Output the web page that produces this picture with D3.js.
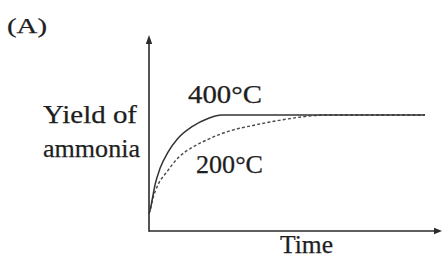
<!DOCTYPE html>
<html><head><meta charset="utf-8">
<script src="https://cdn.jsdelivr.net/npm/d3@7"></script>
<style>html,body{margin:0;padding:0;background:#fff;}svg{display:block;}
text{font-family:"Liberation Serif","Times New Roman",Times,serif;}</style>
</head><body>
<svg id="c" width="443" height="259"></svg>
<script>
// Data (time in arbitrary units, yield relative to equilibrium)
const time400  = [0, 0.04, 0.1, 0.22, 0.4, 0.69, 1.05, 1.56, 2.14, 2.64, 4, 6, 8, 10];
const yield400 = [0.15, 0.18, 0.25, 0.40, 0.54, 0.68, 0.80, 0.90, 0.97, 1.0, 1.0, 1.0, 1.0, 1.0];
const time200  = [0, 0.04, 0.14, 0.33, 0.65, 1.05, 1.56, 2.14, 2.64, 3.19, 3.77, 4.38, 5.0, 5.58, 6.0, 6.5, 8, 10];
const yield200 = [0.15, 0.18, 0.28, 0.40, 0.51, 0.63, 0.72, 0.79, 0.84, 0.88, 0.91, 0.94, 0.965, 0.985, 0.995, 1.0, 1.0, 1.0];
const seriesLabels = ["400°C", "200°C"];
const yLabel = ["Yield of", "ammonia"];
const xLabel = "Time";
const panelLabel = "(A)";

const svg = d3.select("#c");
const x = d3.scaleLinear().domain([0, 10]).range([149, 425]);
const y = d3.scaleLinear().domain([0, 1]).range([231, 115]);
const ink = "#2a2a2a";

// axes with arrowheads
svg.append("line").attr("x1", x(0)).attr("x2", 437).attr("y1", y(0)).attr("y2", y(0))
  .attr("stroke", ink).attr("stroke-width", 1.6);
svg.append("line").attr("x1", x(0)).attr("x2", x(0)).attr("y1", y(0) + 0.8).attr("y2", 42)
  .attr("stroke", ink).attr("stroke-width", 1.6);
svg.append("path").attr("d", `M442,${y(0)} L434,${y(0) - 3.2} L434,${y(0) + 3.2} Z`).attr("fill", ink);
svg.append("path").attr("d", `M${x(0)},35 L${x(0) - 3.2},44 L${x(0) + 3.2},44 Z`).attr("fill", ink);

const line = d3.line().x(d => x(d[0])).y(d => y(d[1])).curve(d3.curveMonotoneX);
svg.append("path").datum(d3.zip(time200, yield200)).attr("d", line)
  .attr("fill", "none").attr("stroke", "#4a4a4a").attr("stroke-width", 1.4)
  .attr("stroke-dasharray", "3,2.2");
svg.append("path").datum(d3.zip(time400, yield400)).attr("d", line)
  .attr("fill", "none").attr("stroke", "#333").attr("stroke-width", 1.5);

// texts
function txt(s, tx, ty, size, len) {
  const t = svg.append("text").attr("x", tx).attr("y", ty).text(s)
    .attr("font-size", size).attr("fill", "#1e1e1e")
    .attr("stroke", "#1e1e1e").attr("stroke-width", 0.25);
  if (len) t.attr("textLength", len).attr("lengthAdjust", "spacingAndGlyphs");
  return t;
}
txt(panelLabel, 7, 33, 22, 40);
txt(yLabel[0], 43, 123, 26, 94);
txt(yLabel[1], 43, 157, 26, 97);
txt(seriesLabels[0], 188, 103, 25, 74);
txt(seriesLabels[1], 196, 173, 25, 67);
txt(xLabel, 280, 253, 25, 53);
</script>
</body></html>
